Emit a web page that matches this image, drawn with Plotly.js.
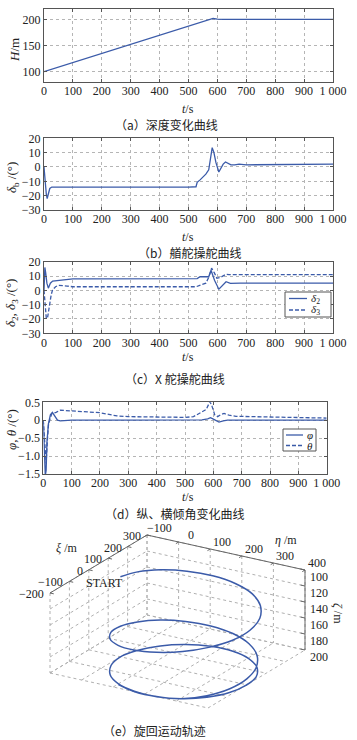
<!DOCTYPE html>
<html>
<head>
<meta charset="utf-8">
<script src="https://cdn.plot.ly/plotly-3.0.1.min.js"></script>
<style>html,body{margin:0;padding:0;background:#fff;}#chart{width:357px;height:740px;}</style>
</head>
<body>
<div id="chart"></div>
<script>
// ---------- data ----------
const tickT = [0,100,200,300,400,500,600,700,800,900,1000];
const tickTText = ['0','100','200','300','400','500','600','700','800','900','1 000'];

// (a) depth
const tH = [0,100,200,300,400,500,550,570,585,600,620,700,800,900,1000];
const H  = [100,117.4,134.8,152.2,169.6,187,195.5,199,201.8,200.6,200,200,200,200,200];

// (b) bow rudder
const tB = [0,3,8,11,15,20,27,40,100,200,300,400,500,526,530,540,560,570,577,582,588,595,605,612,620,628,637,647,660,675,700,800,880,900,1000];
const deltaB = [0,-8,-19,-22,-18,-15,-14,-14,-14,-14.5,-14.3,-14.2,-14,-13.8,-10.7,-9,-5,-2,6,13.5,10,3,-3.5,-1,2,3.5,2.5,1.5,1.5,2,1.5,1.5,1.5,2,2];

// (c) X rudder
const t2 = [0,3,6,10,15,22,30,50,80,100,150,300,500,530,540,570,578,590,605,615,630,645,660,680,1000];
const delta2 = [0,16,12,5,1.5,5,6.5,7,7.5,8,8,8,8,8.2,9.5,9.5,14,7,0.8,3,6,4.8,5,5,5];
const t3 = [0,4,8,12,16,20,25,30,40,50,60,80,100,200,300,400,500,526,545,560,570,580,590,598,610,620,630,640,700,1000];
const delta3 = [0,-12,-19.5,-19.5,-14,-8,-3,0.5,2.5,3.5,3.5,3,2.5,2.5,2.5,2.5,2.5,2.5,4,5,9,15.5,12,8.5,9,10,11.2,11,11,11];

// (d) roll / pitch
const tPhi = [0,3,7,10,13,18,25,32,40,50,60,100,300,500,560,580,590,600,610,620,635,650,700,1000];
const phi  = [0,-0.6,-1.55,-1.4,-0.6,-0.1,0.15,0.22,0.12,0,-0.02,0,0,0,0.01,0.04,0.07,0.03,-0.02,-0.05,-0.02,0,0,0];
const tTheta = [0,3,7,10,14,18,24,30,36,45,60,80,120,200,260,300,400,500,530,550,560,575,588,595,605,615,625,638,655,680,800,1000];
const theta  = [0,-0.4,-1.1,-1.2,-0.6,-0.15,0.05,0.18,0.2,0.22,0.28,0.27,0.25,0.21,0.12,0.1,0.09,0.08,0.1,0.18,0.22,0.3,0.52,0.4,0.15,0.1,0.15,0.19,0.14,0.11,0.09,0.06];

// (e) turning trajectory (η, ξ, ζ in m)
const eta  = [0,10,45,100,167,240,307,360,397,410,398,360,305,237,165,100,47,12,
              0,12,47,100,165,235,300,353,388,400,388,353,300,235,165,100,47,12,
              0,14,50,103,168,238,303,356,391,400,390,356,303,238,168,103];
const xi   = [0,72,135,180,204,204,180,135,72,0,-70,-131,-176,-200,-200,-175,-130,-68,
              0,68,129,173,197,197,173,129,68,0,-68,-129,-173,-197,-197,-173,-129,-68,
              -4,63,124,168,192,192,168,124,63,-5,-73,-134,-178,-200,-200,-178];
const zeta = [100,103.4,106.9,110.3,113.7,117.2,120.6,124,127.5,130.9,134.3,137.7,141.2,144.6,148,151.5,154.9,158.3,
              161.8,165.2,168.6,172.1,175.5,178.9,182.3,185.8,189.2,192.6,196.1,199,201,200.5,200,200,200,200,
              200,200,200,200,200,200,200,200,200,200,200,200,200,200,200,200];
const etaTicks  = [-100,0,100,200,300,400];
const xiTicks   = [-200,-100,0,100,200,300];
const zetaTicks = [100,120,140,160,180,200];

// ---------- style ----------
const LC = '#3b5ba9';
const FONT = 'Liberation Serif, Times New Roman, serif';
const CJK = 'Noto Sans CJK SC, sans-serif';
const W = 357, Hh = 740;
const px = v => v / W, py = v => 1 - v / Hh;

function xax(dom, anchor){
  return {domain: dom, anchor: anchor, range:[0,1000], tickvals: tickT, ticktext: tickTText,
    showline:true, mirror:'ticks', linecolor:'#555', linewidth:1, ticks:'inside', ticklen:3, tickcolor:'#555',
    showgrid:true, gridcolor:'#b5b5b5', griddash:'dot', gridwidth:1, zeroline:false, ticklabelstandoff:-2,
    tickfont:{family:FONT, size:12, color:'#222'}, fixedrange:true};
}
function yax(dom, anchor, range, tv, tt){
  const o = {domain: dom, anchor: anchor, range: range, tickvals: tv,
    showline:true, mirror:'ticks', linecolor:'#555', linewidth:1, ticks:'inside', ticklen:3, tickcolor:'#555',
    showgrid:true, gridcolor:'#b5b5b5', griddash:'dot', gridwidth:1, zeroline:false,
    tickfont:{family:FONT, size:12, color:'#222'}, fixedrange:true};
  if (tt) o.ticktext = tt;
  return o;
}

// ---------- 3D -> 2D orthographic projection (pixel units of the hidden axis x5/y5) ----------
const E0 = etaTicks[0], X0 = xiTicks[0], Z0 = zetaTicks[0];
function proj(e, x, z){
  return [50 + 0.316*(e - E0) + 0.194*(x - X0), 593 + 0.07*(e - E0) - 0.116*(x - X0) + 0.8*(z - Z0)];
}
function segs(list){
  const X = [], Y = [];
  list.forEach(([a, b]) => { const p = proj(...a), q = proj(...b); X.push(p[0], q[0], null); Y.push(p[1], q[1], null); });
  return {X, Y};
}
const eMin = etaTicks[0], eMax = etaTicks[etaTicks.length-1];
const xMin = xiTicks[0], xMax = xiTicks[xiTicks.length-1];
const zTop = zetaTicks[0], zBot = zetaTicks[zetaTicks.length-1];
const gridList = [];
xiTicks.forEach(x => { gridList.push([[eMin,x,zTop],[eMin,x,zBot]]); gridList.push([[eMin,x,zBot],[eMax,x,zBot]]); });
zetaTicks.forEach(z => { gridList.push([[eMin,xMin,z],[eMin,xMax,z]]); gridList.push([[eMin,xMax,z],[eMax,xMax,z]]); });
etaTicks.forEach(e => { gridList.push([[e,xMax,zTop],[e,xMax,zBot]]); gridList.push([[e,xMin,zBot],[e,xMax,zBot]]); });
const grid = segs(gridList);
const axList = [[[eMin,xMin,zTop],[eMin,xMax,zTop]], [[eMin,xMax,zTop],[eMax,xMax,zTop]], [[eMax,xMax,zTop],[eMax,xMax,zBot]]];
xiTicks.forEach(x => axList.push([[eMin,x,zTop],[eMin+12,x,zTop]]));
etaTicks.forEach(e => axList.push([[e,xMax,zTop],[e,xMax-14,zTop]]));
zetaTicks.forEach(z => axList.push([[eMax,xMax,z],[eMax-14,xMax,z]]));
const axl = segs(axList);
const traj = {X: [], Y: []};
eta.forEach((e, i) => { const p = proj(e, xi[i], zeta[i]); traj.X.push(p[0]); traj.Y.push(p[1]); });

const traces = [
  {x:tH, y:H, xaxis:'x', yaxis:'y', mode:'lines', line:{color:LC, width:1.3}, showlegend:false},
  {x:tB, y:deltaB, xaxis:'x2', yaxis:'y2', mode:'lines', line:{color:LC, width:1.3}, showlegend:false},
  {x:t2, y:delta2, xaxis:'x3', yaxis:'y3', mode:'lines', line:{color:LC, width:1.3}, showlegend:false},
  {x:t3, y:delta3, xaxis:'x3', yaxis:'y3', mode:'lines', line:{color:LC, width:1.3, dash:'4px,2px'}, showlegend:false},
  {x:tPhi, y:phi, xaxis:'x4', yaxis:'y4', mode:'lines', line:{color:LC, width:1.3}, showlegend:false},
  {x:tTheta, y:theta, xaxis:'x4', yaxis:'y4', mode:'lines', line:{color:LC, width:1.3, dash:'4px,2px'}, showlegend:false},
  {x:grid.X, y:grid.Y, xaxis:'x5', yaxis:'y5', mode:'lines', line:{color:'#b0b0b0', width:1, dash:'dot'}, showlegend:false, hoverinfo:'skip'},
  {x:axl.X, y:axl.Y, xaxis:'x5', yaxis:'y5', mode:'lines', line:{color:'#666', width:1}, showlegend:false, hoverinfo:'skip'},
  {x:traj.X, y:traj.Y, xaxis:'x5', yaxis:'y5', mode:'lines', line:{color:LC, width:1.5, shape:'spline', smoothing:1}, showlegend:false, hoverinfo:'skip'}
];

const dA = [py(82), py(9)], dB = [py(210), py(138.3)], dC = [py(333.3), py(261.7)], dD = [py(474), py(402.3)];
const xdom = [px(44), px(333)], xdomD = [px(43.3), px(326.7)];

const T = (o) => Object.assign({showarrow:false, font:{family:FONT, size:12, color:'#222'}}, o);
function cap(text, x, y){ return {text:text, x:px(x), y:py(y), xref:'paper', yref:'paper', showarrow:false, xanchor:'center', yanchor:'middle', font:{family:CJK, size:12, color:'#222'}}; }
function ytl(text, x, y){ return {text:text, x:px(x), y:py(y), xref:'paper', yref:'paper', showarrow:false, textangle:-90, xanchor:'center', yanchor:'middle', font:{family:FONT, size:13, color:'#222'}}; }
function xtl(y){ return {text:'<i>t</i>/s', x:px(188), y:py(y), xref:'paper', yref:'paper', showarrow:false, xanchor:'center', yanchor:'middle', font:{family:FONT, size:12, color:'#222'}}; }

// manual legends (paper coords, pixels)
const shapes = [];
const legAnn = [];
function legend(x0, y0, x1, y1, items){
  shapes.push({type:'rect', xref:'paper', yref:'paper', x0:px(x0), x1:px(x1), y0:py(y0), y1:py(y1), line:{color:'#555', width:1}, fillcolor:'#fff', layer:'above'});
  items.forEach(it => {
    shapes.push({type:'line', xref:'paper', yref:'paper', x0:px(it.lx0), x1:px(it.lx1), y0:py(it.y), y1:py(it.y), line:{color:LC, width:1.3, dash:it.dash}, layer:'above'});
    legAnn.push({text:it.text, x:px(it.tx), y:py(it.y), xref:'paper', yref:'paper', showarrow:false, xanchor:'left', yanchor:'middle', font:{family:FONT, size:11, color:'#222'}});
  });
}
legend(285, 292, 331, 317, [
  {lx0:289, lx1:307, tx:309, y:298.5, dash:'solid', text:'<i>δ</i><sub>2</sub>'},
  {lx0:289, lx1:307, tx:309, y:310, dash:'4px,2px', text:'<i>δ</i><sub>3</sub>'}]);
legend(283, 429, 316, 451, [
  {lx0:286, lx1:303, tx:305, y:435, dash:'solid', text:'<i>φ</i>'},
  {lx0:286, lx1:303, tx:305, y:445.5, dash:'4px,2px', text:'<i>θ</i>'}]);

// 3D labels
const ann3 = [];
xiTicks.forEach(x => { const p = proj(eMin, x, zTop); ann3.push(T({text:String(x).replace('-', '−'), x:p[0]-4, y:p[1]+1, xref:'x5', yref:'y5', xanchor:'right', yanchor:'middle'})); });
etaTicks.forEach(e => { const p = proj(e, xMax, zTop); ann3.push(T({text:String(e).replace('-', '−'), x:p[0]+12, y:p[1]-7, xref:'x5', yref:'y5', xanchor:'center', yanchor:'middle'})); });
zetaTicks.forEach(z => { const p = proj(eMax, xMax, z); ann3.push(T({text:String(z), x:p[0]+3, y:p[1]+7, xref:'x5', yref:'y5', xanchor:'left', yanchor:'middle'})); });
ann3.push(T({text:'<i>ξ</i> /m', x:66, y:548, xref:'x5', yref:'y5', xanchor:'center', yanchor:'middle'}));
ann3.push(T({text:'<i>η</i> /m', x:286, y:540, xref:'x5', yref:'y5', xanchor:'center', yanchor:'middle'}));
ann3.push(T({text:'<i>ζ</i> /m', x:338, y:613, xref:'x5', yref:'y5', xanchor:'center', yanchor:'middle', textangle:90}));
const sp = proj(eta[0], xi[0], zeta[0]);
ann3.push(T({text:'START', x:sp[0]+5, y:sp[1]+6, xref:'x5', yref:'y5', xanchor:'right', yanchor:'middle'}));

const layout = {
  width: W, height: Hh, margin:{l:0,r:0,t:0,b:0}, paper_bgcolor:'#fff', plot_bgcolor:'#fff', showlegend:false,
  xaxis: xax(xdom,'y'), yaxis: yax(dA,'x',[80,220],[100,150,200]),
  xaxis2: xax(xdom,'y2'), yaxis2: yax(dB,'x2',[-30,20],[-30,-20,-10,0,10,20]),
  xaxis3: xax(xdom,'y3'), yaxis3: yax(dC,'x3',[-30,20],[-30,-20,-10,0,10,20]),
  xaxis4: xax(xdomD,'y4'), yaxis4: yax(dD,'x4',[-1.5,0.5],[-1.5,-1,-0.5,0,0.5],['−1.5','−1.0','−0.5','0','0.5']),
  xaxis5: {domain:[0,1], anchor:'y5', range:[0,W], visible:false, fixedrange:true},
  yaxis5: {domain:[0, py(520)], anchor:'x5', range:[Hh,520], visible:false, fixedrange:true},
  shapes: shapes,
  annotations: [
    ytl('<i>H</i>/m', 15, 50), ytl('<i>δ</i><sub>b</sub> /(°)', 12, 178), ytl('<i>δ</i><sub>2</sub>, <i>δ</i><sub>3</sub> /(°)', 12, 303), ytl('<i>φ</i>, <i>θ</i> /(°)', 12, 430),
    xtl(109), xtl(237), xtl(357), xtl(497),
    cap('（a）深度变化曲线', 166, 125), cap('（b）艏舵操舵曲线', 189, 252), cap('（c）X 舵操舵曲线', 175, 378),
    cap('（d）纵、横倾角变化曲线', 174, 513), cap('（e）旋回运动轨迹', 154, 730)
  ].concat(legAnn, ann3)
};

Plotly.newPlot('chart', traces, layout, {displayModeBar:false, staticPlot:true});
</script>
</body>
</html>
